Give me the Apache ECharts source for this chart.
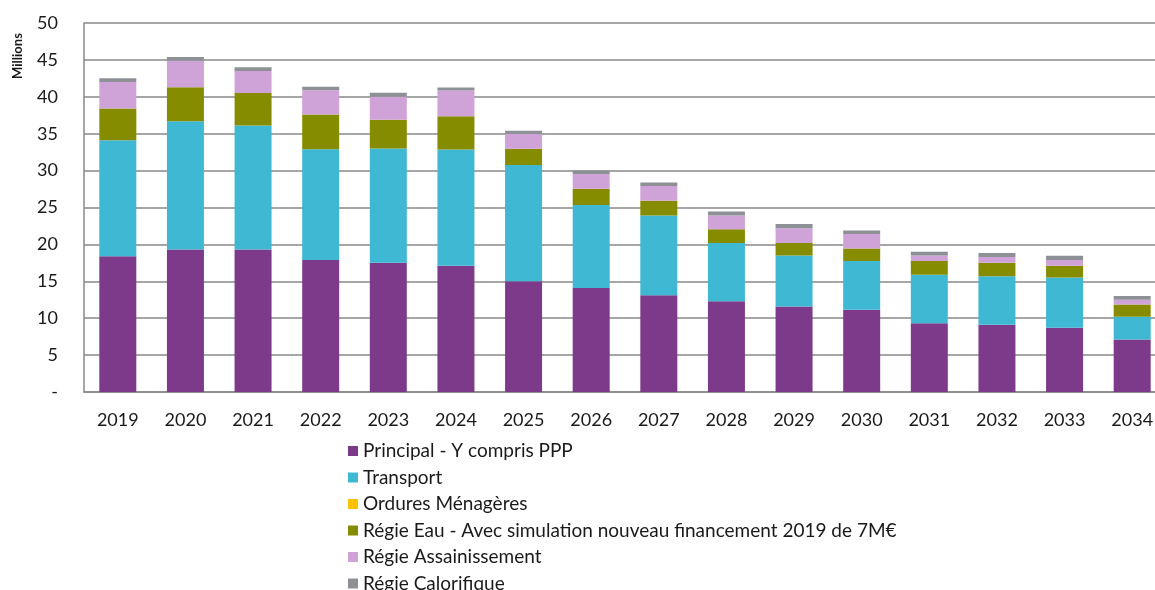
<!DOCTYPE html>
<html>
<head>
<meta charset="utf-8">
<script src="https://cdn.jsdelivr.net/npm/echarts@6/dist/echarts.min.js"></script>
<style>
  html, body { margin: 0; padding: 0; background: #fff; overflow: hidden; }
  /* un peu plus large que la fenêtre : la dernière colonne est coupée comme sur l'original */
  #main { width: 1170px; height: 590px; }
</style>
</head>
<body>
<div id="main"></div>
<script>
// années
var years = ['2019', '2020', '2021', '2022', '2023', '2024', '2025', '2026',
             '2027', '2028', '2029', '2030', '2031', '2032', '2033', '2034'];

// valeurs en millions
var principal   = [18.4, 19.3, 19.3, 17.9, 17.5, 17.1, 15.0, 14.1, 13.1, 12.3, 11.6, 11.15, 9.3, 9.1, 8.7, 7.1];
var transport   = [15.7, 17.4, 16.8, 15.0, 15.5, 15.75, 15.75, 11.25, 10.8, 7.9, 6.9, 6.6, 6.6, 6.6, 6.8, 3.1];
var ordures     = [0, 0, 0, 0, 0, 0, 0, 0, 0, 0, 0, 0, 0, 0, 0, 0];
var regieEau    = [4.3, 4.6, 4.4, 4.7, 3.9, 4.5, 2.2, 2.2, 2.0, 1.85, 1.7, 1.7, 1.85, 1.8, 1.6, 1.65];
var assainiss   = [3.6, 3.6, 3.0, 3.3, 3.1, 3.5, 2.0, 2.0, 2.0, 1.85, 2.0, 1.95, 0.75, 0.8, 0.8, 0.65];
var calorifique = [0.5, 0.5, 0.5, 0.45, 0.55, 0.4, 0.45, 0.45, 0.5, 0.55, 0.55, 0.5, 0.5, 0.55, 0.55, 0.5];

var yTicks = [0, 5, 10, 15, 20, 25, 30, 35, 40, 45, 50];

var font = 'Lato';
var myChart = echarts.init(document.getElementById('main'));

function serie(name, data, color) {
    return {
        name: name,
        type: 'bar',
        stack: 'total',
        barWidth: 37,
        itemStyle: { color: color },
        data: data
    };
}

var option = {
    animation: false,
    backgroundColor: '#fff',
    textStyle: { fontFamily: font },
    grid: { left: 84, top: 23, width: 1082, height: 369 },
    legend: {
        orient: 'vertical',
        left: 343,
        top: 436,
        height: 200,
        itemWidth: 10,
        itemHeight: 10,
        itemGap: 6.5,
        icon: 'rect',
        textStyle: { fontSize: 19, color: '#1a1a1a', lineHeight: 20, fontFamily: font }
    },
    xAxis: {
        type: 'category',
        data: years,
        axisLine: { lineStyle: { color: '#888', width: 1.5 } },
        axisTick: { show: false },
        axisLabel: { color: '#1a1a1a', fontSize: 18, margin: 19 }
    },
    yAxis: {
        type: 'value',
        min: yTicks[0],
        max: yTicks[yTicks.length - 1],
        interval: 5,
        axisLine: { show: true, lineStyle: { color: '#888', width: 1.5 } },
        axisTick: { show: false },
        splitLine: { lineStyle: { color: '#888', width: 1.5 } },
        axisLabel: {
            color: '#1a1a1a',
            fontSize: 18,
            margin: 26,
            formatter: function (v) { return v === 0 ? '-' : v; }
        }
    },
    graphic: [{
        type: 'text',
        x: 18,
        y: 56,
        rotation: Math.PI / 2,
        style: {
            text: 'Millions',
            fontFamily: font,
            fontSize: 13,
            fontWeight: 'bold',
            fill: '#1a1a1a',
            textAlign: 'center',
            textVerticalAlign: 'middle'
        }
    }],
    series: [
        serie('Principal - Y compris PPP', principal, '#7E3A8A'),
        serie('Transport', transport, '#3FB8D4'),
        serie('Ordures Ménagères', ordures, '#FFC000'),
        serie('Régie Eau - Avec simulation nouveau financement 2019 de 7M€', regieEau, '#868C00'),
        serie('Régie Assainissement', assainiss, '#CFA3D8'),
        serie('Régie Calorifique', calorifique, '#8D9196')
    ]
};

myChart.setOption(option);
</script>
</body>
</html>
